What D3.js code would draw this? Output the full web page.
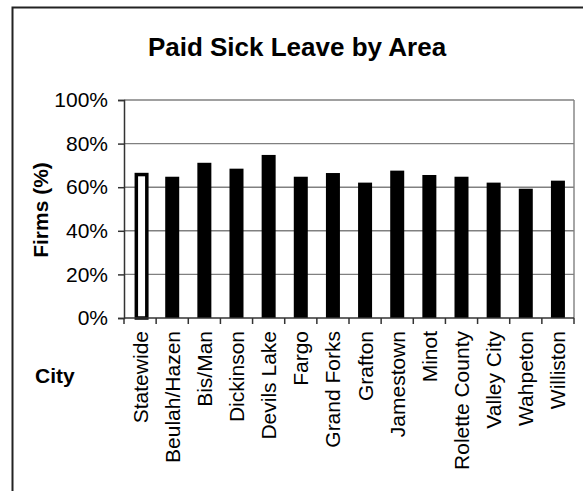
<!DOCTYPE html>
<html>
<head>
<meta charset="utf-8">
<script src="https://cdn.jsdelivr.net/npm/d3@7"></script>
<style>
  body { margin: 0; background: #fff; }
  text { font-family: "Liberation Sans", Arial, sans-serif; fill: #000; }
</style>
</head>
<body>
<svg id="chart" width="583" height="491"></svg>
<script>
// chart data
var cities = ["Statewide", "Beulah/Hazen", "Bis/Man", "Dickinson", "Devils Lake", "Fargo",
  "Grand Forks", "Grafton", "Jamestown", "Minot", "Rolette  County", "Valley City", "Wahpeton", "Williston"];
var firmsPct = [66.6, 64.8, 71.2, 68.5, 74.8, 64.8, 66.5, 62.1, 67.6, 65.6, 64.8, 62.1, 59.3, 63.0];
var yTicks = [0, 20, 40, 60, 80, 100];

var svg = d3.select("#chart");
var plot = { left: 124, right: 574, top: 100, bottom: 318 };

// outer chart border (runs off the right and bottom of the picture)
svg.append("rect")
  .attr("x", 12.5).attr("y", 7.5)
  .attr("width", 620).attr("height", 520)
  .attr("fill", "#fff").attr("stroke", "#222").attr("stroke-width", 2);

var x = d3.scaleBand().domain(cities).range([plot.left, plot.right]);
var y = d3.scaleLinear().domain([0, 100]).range([plot.bottom, plot.top]);

// gridlines
svg.append("g").selectAll("line")
  .data(yTicks.filter(function(d) { return d > 0; }))
  .enter().append("line")
    .attr("x1", plot.left).attr("x2", plot.right)
    .attr("y1", function(d) { return y(d); }).attr("y2", function(d) { return y(d); })
    .attr("stroke", "#808080").attr("stroke-width", 1.4);

// right border of plot area
svg.append("line")
  .attr("x1", plot.right).attr("x2", plot.right)
  .attr("y1", plot.top).attr("y2", plot.bottom)
  .attr("stroke", "#808080").attr("stroke-width", 1.4);

// bars (first one is the statewide outline bar)
var barW = 14, sw = 3.5;
svg.append("g").selectAll("rect")
  .data(cities)
  .enter().append("rect")
    .attr("x", function(d, i) {
      var c = x(d) + x.bandwidth() / 2 + (i === 0 ? 1.5 : 0);
      return i === 0 ? c - (barW - sw) / 2 : c - barW / 2;
    })
    .attr("y", function(d, i) { return y(firmsPct[i]) + (i === 0 ? sw / 2 : 0); })
    .attr("width", function(d, i) { return i === 0 ? barW - sw : barW; })
    .attr("height", function(d, i) { return y(0) - y(firmsPct[i]) - (i === 0 ? sw / 2 : 0); })
    .attr("fill", function(d, i) { return i === 0 ? "#fff" : "#000"; })
    .attr("stroke", function(d, i) { return i === 0 ? "#000" : "none"; })
    .attr("stroke-width", sw);

// y axis
var yAxis = svg.append("g")
  .attr("transform", "translate(" + plot.left + ",0)")
  .call(d3.axisLeft(y).tickValues(yTicks).tickSize(6).tickPadding(10)
    .tickFormat(function(d) { return d + "%"; }));
yAxis.select(".domain").attr("stroke", "#333").attr("stroke-width", 1.5);
yAxis.selectAll(".tick line").attr("stroke", "#333").attr("stroke-width", 1.5);
yAxis.selectAll(".tick text").style("font-size", "21px").attr("fill", "#000");

// x axis: ticks at band boundaries, labels rotated
var xAxis = svg.append("g")
  .attr("transform", "translate(0," + plot.bottom + ")");
xAxis.append("line")
  .attr("x1", plot.left).attr("x2", plot.right)
  .attr("stroke", "#333").attr("stroke-width", 1.5);
xAxis.selectAll(".tk")
  .data(cities.concat(["end"]))
  .enter().append("line")
    .attr("class", "tk")
    .attr("x1", function(d, i) { return plot.left + i * x.bandwidth(); })
    .attr("x2", function(d, i) { return plot.left + i * x.bandwidth(); })
    .attr("y1", 0).attr("y2", 6)
    .attr("stroke", "#333").attr("stroke-width", 1.5);
xAxis.selectAll(".lbl")
  .data(cities)
  .enter().append("text")
    .attr("class", "lbl")
    .attr("transform", function(d) {
      return "translate(" + (x(d) + x.bandwidth() / 2 + 7.5) + ",13) rotate(-90)";
    })
    .attr("text-anchor", "end")
    .style("font-size", "21px")
    .text(function(d) { return d; });

// titles
svg.append("text")
  .attr("x", 297).attr("y", 56)
  .attr("text-anchor", "middle")
  .style("font-size", "26px").style("font-weight", "bold")
  .text("Paid Sick Leave by Area");

svg.append("text")
  .attr("transform", "translate(48,210) rotate(-90)")
  .attr("text-anchor", "middle")
  .style("font-size", "21px").style("font-weight", "bold")
  .text("Firms (%)");

svg.append("text")
  .attr("x", 35).attr("y", 383)
  .style("font-size", "21px").style("font-weight", "bold")
  .text("City");
</script>
</body>
</html>
